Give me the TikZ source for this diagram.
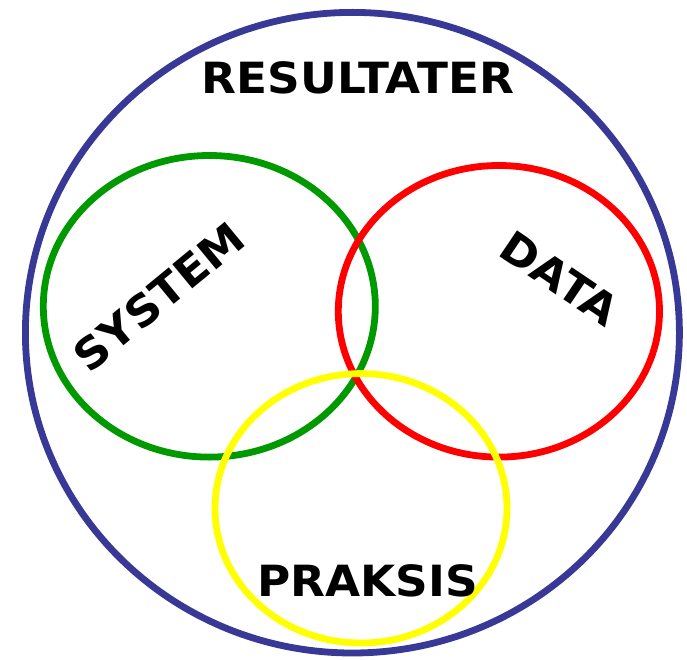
\documentclass[tikz,border=0pt]{standalone}
\usepackage{fontspec}
\usepackage{graphicx}
\setmainfont{DejaVu Sans}
\definecolor{outerblue}{RGB}{56,56,150}
\definecolor{sysgreen}{RGB}{0,153,0}
\definecolor{datared}{RGB}{255,0,0}
\definecolor{praksisyellow}{RGB}{255,255,0}
\newcommand{\widetxt}[1]{\scalebox{1.055}[1]{#1}}
\tikzset{
  ring/.style={line width=6.8pt},
  lbl/.style={inner sep=0pt, font=\bfseries\fontsize{43}{43}\selectfont, text=black}
}
\begin{document}
\begin{tikzpicture}[x=1pt,y=-1pt]
\useasboundingbox (0,0) rectangle (687,660);
\fill[white] (0,0) rectangle (687,660);
% outer ring
\draw[ring, outerblue] (352.4,332.7) ellipse [x radius=327, y radius=320.3];
% three rings
\draw[ring, sysgreen] (209.3,306.3) ellipse [x radius=166, y radius=150.8];
\draw[ring, datared] (498.9,311.3) ellipse [x radius=160.6, y radius=145.8];
\draw[ring, praksisyellow] (361,508.3) ellipse [x radius=146, y radius=134.7];
% labels
\node[lbl, anchor=base] (resultater) at (358,93.3) {\widetxt{RESULTATER}};
\node[lbl, rotate=39.5] (system) at (159,296.7) {\widetxt{SYSTEM}};
\node[lbl, rotate=-34] (data) at (560,278.3) {\widetxt{DATA}};
\node[lbl, anchor=base] (praksis) at (367.5,596.7) {\widetxt{PRAKSIS}};
\end{tikzpicture}
\end{document}
